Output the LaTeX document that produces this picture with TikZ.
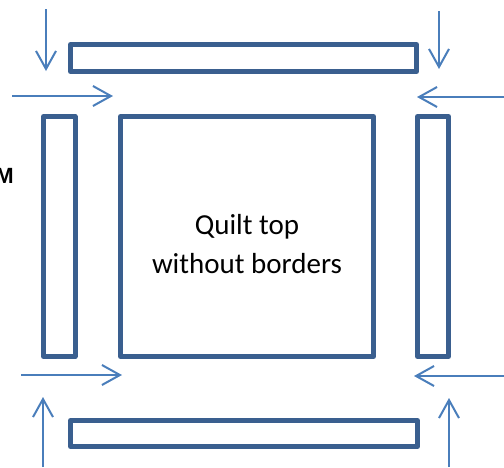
\documentclass[tikz,border=0pt]{standalone}
\usepackage{fontspec}
\setmainfont{Carlito}
\newfontfamily\mfont{Liberation Sans}
\usetikzlibrary{arrows.meta}
\definecolor{barblue}{HTML}{3A5F8F}
\definecolor{arrblue}{HTML}{4A7EBB}
\begin{document}
\begin{tikzpicture}[x=1pt,y=-1pt,
  bar/.style={draw=barblue,line width=5pt,line join=round},
  push/.style={draw=arrblue,line width=2pt,-{Straight Barb[length=18pt,width=20pt,line width=2pt]}}]
\useasboundingbox (0,0) rectangle (504,467);
% bars and square
\draw[bar] (70.5,44.5) rectangle (416.5,71.5);
\draw[bar] (70.5,420.5) rectangle (417.5,446.5);
\draw[bar] (43.5,116.5) rectangle (75,356.5);
\draw[bar] (417.5,116.5) rectangle (448.5,356.5);
\draw[bar] (120.5,116.5) rectangle (373.5,356.5);
\node[font=\fontsize{29}{39}\selectfont,align=center,inner sep=0pt] (q) at (247,244) {Quilt top\\without borders};
\node[font=\mfont\bfseries\fontsize{22}{26}\selectfont,anchor=base east,inner sep=0pt] (m) at (14,183) {M};
% arrow endpoints
\coordinate (a1s) at (46,9);   \coordinate (a1e) at (46,71);
\coordinate (a2s) at (12,96);  \coordinate (a2e) at (113,96);
\coordinate (a3s) at (439,11); \coordinate (a3e) at (439,69);
\coordinate (a4s) at (504,97); \coordinate (a4e) at (417,97);
\coordinate (a5s) at (21,375); \coordinate (a5e) at (122,375);
\coordinate (a6s) at (43,467); \coordinate (a6e) at (43,397);
\coordinate (a7s) at (504,376);\coordinate (a7e) at (414,376);
\coordinate (a8s) at (449,467);\coordinate (a8e) at (449,398);
\draw[push] (a1s) -- (a1e);
\draw[push] (a2s) -- (a2e);
\draw[push] (a3s) -- (a3e);
\draw[push] (a4s) -- (a4e);
\draw[push] (a5s) -- (a5e);
\draw[push] (a6s) -- (a6e);
\draw[push] (a7s) -- (a7e);
\draw[push] (a8s) -- (a8e);
\end{tikzpicture}
\end{document}
